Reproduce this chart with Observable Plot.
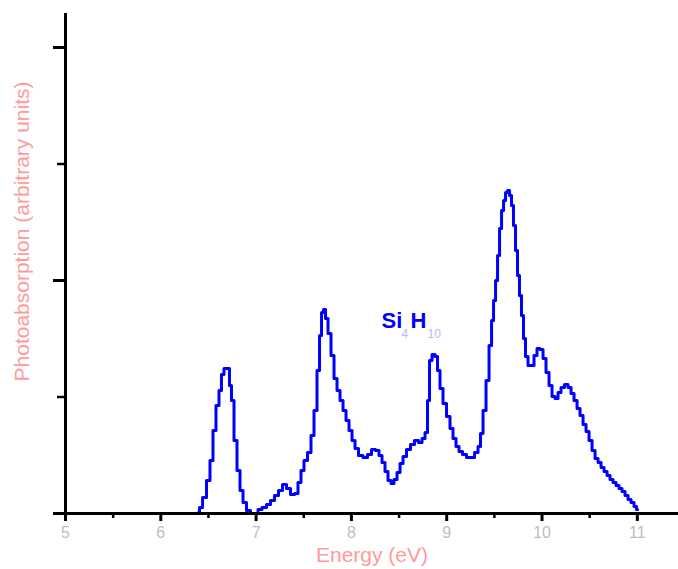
<!DOCTYPE html>
<html>
<head>
<meta charset="utf-8">
<script src="https://cdn.jsdelivr.net/npm/d3@7"></script>
<script src="https://cdn.jsdelivr.net/npm/@observablehq/plot@0.6"></script>
<style>
  html, body { margin: 0; padding: 0; background: #fff; }
  #chart svg { display: block; }
</style>
</head>
<body>
<div id="chart"></div>
<script>
// Photon energy (eV)
const energy = [6.396,6.417,6.459,6.50,6.532,6.563,6.595,6.626,6.647,6.679,6.710,6.731,6.752,6.784,6.815,6.847,6.878,6.920,6.962,7.004,
7.036,7.088,7.130,7.172,7.214,7.256,7.298,7.340,7.382,7.424,7.455,7.487,7.518,7.560,7.592,7.623,7.655,7.676,7.697,7.718,
7.739,7.770,7.802,7.833,7.865,7.896,7.928,7.959,7.991,8.022,8.054,8.095,8.148,8.190,8.232,8.274,8.305,8.337,8.368,8.400,
8.431,8.463,8.494,8.526,8.557,8.599,8.641,8.683,8.725,8.757,8.788,8.809,8.830,8.862,8.893,8.914,8.945,8.977,9.019,9.050,
9.082,9.113,9.145,9.187,9.229,9.271,9.313,9.344,9.365,9.397,9.428,9.460,9.481,9.502,9.523,9.544,9.565,9.586,9.607,9.628,
9.649,9.670,9.690,9.711,9.733,9.753,9.774,9.795,9.816,9.837,9.869,9.900,9.932,9.963,9.995,10.026,10.058,10.089,10.121,10.152,
10.184,10.215,10.257,10.289,10.320,10.352,10.383,10.415,10.446,10.478,10.509,10.541,10.572,10.604,10.635,10.667,10.698,10.729,10.761,10.792,
10.824,10.855,10.887,10.918,10.950,10.981,11.002];
// Photoabsorption (arbitrary units)
const absorption = [0.004,0.026,0.069,0.142,0.227,0.356,0.464,0.528,0.597,0.622,0.622,0.549,0.485,0.313,0.185,0.099,0.047,0.013,0,0,
0.017,0.026,0.039,0.056,0.077,0.099,0.124,0.107,0.082,0.086,0.133,0.185,0.227,0.262,0.335,0.442,0.614,0.764,0.863,0.876,
0.837,0.773,0.678,0.579,0.528,0.485,0.442,0.399,0.356,0.313,0.279,0.249,0.240,0.253,0.275,0.270,0.249,0.219,0.180,0.142,
0.129,0.146,0.176,0.215,0.245,0.275,0.296,0.313,0.305,0.322,0.348,0.485,0.657,0.682,0.674,0.614,0.536,0.472,0.416,0.365,
0.322,0.288,0.266,0.253,0.240,0.240,0.262,0.288,0.343,0.442,0.571,0.721,0.828,0.914,1.000,1.107,1.223,1.300,1.343,1.378,
1.386,1.365,1.322,1.236,1.129,1.021,0.936,0.850,0.751,0.674,0.635,0.635,0.678,0.708,0.704,0.665,0.605,0.549,0.502,0.494,
0.519,0.541,0.554,0.541,0.515,0.485,0.451,0.421,0.382,0.352,0.313,0.270,0.236,0.219,0.197,0.180,0.163,0.146,0.133,0.120,
0.107,0.094,0.077,0.060,0.047,0.030,0.017];

const xMajorTicks = [5, 6, 7, 8, 9, 10, 11];
const xMinorTicks = [5.5, 6.5, 7.5, 8.5, 9.5, 10.5];
const yMajorTicks = [0, 1, 2];
const yMinorTicks = [0.5, 1.5];

const xTitle = "Energy (eV)";
const yTitle = "Photoabsorption (arbitrary units)";
const moleculeParts = ["Si", "4", "H", "10"];
const moleculeAt = {x: 8.316, y: 0.798};

const data = energy.map((e, i) => ({energy: e, value: absorption[i]}));
const font = "Liberation Sans, Arial, sans-serif";

const chart = Plot.plot({
  width: 678,
  height: 569,
  marginTop: 13,
  marginBottom: 56,
  marginLeft: 65,
  marginRight: 0,
  style: {background: "#fff", fontFamily: font},
  x: {domain: [5, 11.432]},
  y: {domain: [0, 2.146]},
  marks: [
    Plot.line(data, {x: "energy", y: "value", stroke: "#0000ff", strokeWidth: 3, curve: "step"}),
    Plot.axisX({ticks: xMinorTicks, tickSize: 5, strokeWidth: 2.5, stroke: "black", tickFormat: () => "", label: null}),
    Plot.axisX({ticks: xMajorTicks, tickSize: 8, tickPadding: 5, strokeWidth: 3, stroke: "black",
      fill: "#bdbdbd", fontSize: 16, tickFormat: d => String(d), label: null}),
    Plot.axisY({ticks: yMinorTicks, tickSize: 8, strokeWidth: 2.5, stroke: "black", tickFormat: () => "", label: null}),
    Plot.axisY({ticks: yMajorTicks, tickSize: 12, strokeWidth: 3, stroke: "black", tickFormat: () => "", label: null}),
    Plot.ruleY([0], {stroke: "black", strokeWidth: 3}),
    Plot.ruleX([5], {stroke: "black", strokeWidth: 3}),
    Plot.text([xTitle], {frameAnchor: "bottom", dy: 48, text: d => d, fill: "#ff9a9a", fontSize: 21, textAnchor: "middle"}),
    Plot.text([yTitle], {frameAnchor: "left", dx: -43, dy: -32, rotate: -90, text: d => d, fill: "#ff9a9a", fontSize: 21, textAnchor: "middle"}),
    Plot.text([moleculeParts[0]], {x: () => moleculeAt.x, y: () => moleculeAt.y, text: d => d, fill: "#0000ff", fontSize: 22, fontWeight: "bold", textAnchor: "start", lineAnchor: "bottom"}),
    Plot.text([moleculeParts[1]], {x: () => moleculeAt.x, y: () => moleculeAt.y, dx: 20, dy: 10, text: d => d, fill: "#b8b8ff", fontSize: 12, textAnchor: "start", lineAnchor: "bottom"}),
    Plot.text([moleculeParts[2]], {x: () => moleculeAt.x, y: () => moleculeAt.y, dx: 29, text: d => d, fill: "#0000ff", fontSize: 22, fontWeight: "bold", textAnchor: "start", lineAnchor: "bottom"}),
    Plot.text([moleculeParts[3]], {x: () => moleculeAt.x, y: () => moleculeAt.y, dx: 46, dy: 10, text: d => d, fill: "#b8b8ff", fontSize: 12, textAnchor: "start", lineAnchor: "bottom"})
  ]
});
document.getElementById("chart").appendChild(chart);
</script>
</body>
</html>
